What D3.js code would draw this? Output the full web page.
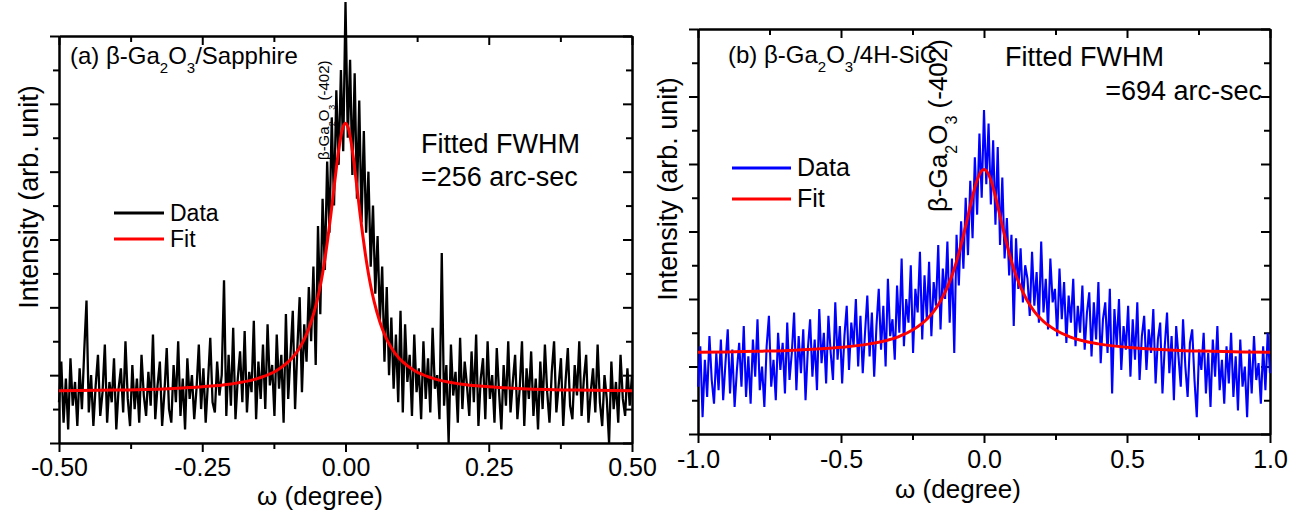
<!DOCTYPE html>
<meta charset="utf-8">
<title>Rocking curves</title>
<script src="https://d3js.org/d3.v7.min.js"></script>
<style>
  body { margin: 0; background: #fff; }
  text { font-family: "Liberation Sans", Arial, sans-serif; fill: #000; }
</style>
<body>
<div id="chart"></div>
<script>

// (a) beta-Ga2O3 / sapphire, omega grid starts at -0.5, step 0.004
var omegaStartA = -0.5, omegaStepA = 0.004;
var dataA = [
  1.2,2.4,0.6,1.9,0.4,2.5,1.1,1.8,0.5,2.2,
  1.0,2.7,4.2,0.9,2.0,0.5,1.7,2.6,0.8,1.5,
  2.9,0.6,1.8,1.2,2.5,0.4,1.6,2.2,0.9,3.0,
  1.3,0.5,2.3,1.0,1.9,0.6,2.6,1.4,0.8,2.1,
  1.1,3.2,0.7,1.7,2.4,0.5,1.5,2.8,1.0,0.6,
  2.3,1.2,3.0,0.8,1.9,0.4,2.5,1.3,2.0,0.7,
  1.6,2.9,1.0,2.2,0.6,1.8,3.1,1.2,0.9,2.4,
  1.4,2.0,4.8,0.8,2.6,1.1,3.4,0.7,1.9,2.7,
  1.2,3.3,0.9,2.1,1.5,3.6,0.7,2.4,1.3,2.9,
  1.0,3.5,1.7,2.3,0.8,3.2,1.6,2.6,0.6,3.8,
  1.3,2.6,3.9,1.0,2.8,4.3,1.5,3.5,2.4,4.6,
  3.0,5.2,2.3,6.4,3.8,7.2,5.1,8.3,6.2,9.6,
  7.0,10.4,8.2,11.0,8.6,13.0,9.0,11.3,7.9,10.9,
  7.2,10.1,6.5,9.2,6.2,8.0,5.2,7.0,4.4,6.1,
  3.6,5.2,2.4,4.6,2.0,3.7,1.6,3.2,1.2,3.9,
  0.9,3.5,1.8,2.6,0.8,3.2,1.5,2.2,0.7,3.0,
  1.3,2.5,0.9,3.4,1.6,2.0,0.7,5.6,1.1,2.3,
  0.0,2.9,1.4,2.1,0.6,3.1,1.0,2.4,1.7,0.8,
  2.7,1.2,3.2,0.5,1.9,2.5,0.7,3.0,1.3,2.0,
  0.6,2.8,1.5,0.4,2.3,1.1,3.0,0.9,1.8,2.6,
  0.7,1.6,3.0,0.5,2.2,1.3,2.7,0.8,1.9,0.4,
  2.4,1.0,2.9,1.5,0.6,2.1,3.0,0.9,1.7,2.5,
  0.5,1.8,2.8,1.1,0.7,2.3,1.4,3.0,0.8,1.9,
  2.6,0.6,1.5,2.2,0.9,2.9,1.2,0.5,2.0,1.3,
  0.0,2.4,1.0,1.8,0.6,2.6,1.3,0.8,2.2,1.1,
  2.0
];
var fitOmegaA = [-0.5,-0.4,-0.3,-0.25,-0.2,-0.15,-0.12,-0.1,-0.09,-0.08,-0.07,-0.06,-0.05,-0.045,-0.04,-0.035,-0.03,-0.025,-0.02,-0.015,-0.01,-0.005,
  0,0.005,0.01,0.015,0.02,0.025,0.03,0.035,0.04,0.045,0.05,0.06,0.07,0.08,0.09,0.1,0.12,0.15,0.2,0.25,0.3,0.4,0.5];
var fitA = [1.54,1.56,1.61,1.66,1.74,1.92,2.14,2.39,2.57,2.81,3.13,3.57,4.17,4.55,5.00,5.53,6.14,6.81,7.53,8.24,8.85,9.28,
  9.43,9.28,8.85,8.24,7.53,6.81,6.14,5.53,5.00,4.55,4.17,3.57,3.13,2.81,2.57,2.39,2.14,1.92,1.74,1.66,1.61,1.56,1.54];
var ticksA = [-0.5,-0.25,0,0.25,0.5];
var tickLabelsA = ["-0.50","-0.25","0.00","0.25","0.50"];
var minorTicksA = [-0.375,-0.125,0.125,0.375];

// (b) beta-Ga2O3 / 4H-SiC, omega grid starts at -1.0, step 0.008
var omegaStartB = -1.0, omegaStepB = 0.008;
var dataB = [
  1.4,2.6,0.5,2.2,1.1,2.9,1.6,0.9,2.4,1.3,
  2.8,1.0,2.1,3.1,1.2,2.5,0.8,1.9,2.7,1.4,
  3.2,1.1,2.3,0.9,2.8,1.7,3.4,1.3,2.0,0.8,
  2.6,3.5,1.4,2.2,1.0,3.0,1.9,2.7,1.2,3.3,
  1.6,2.4,3.6,1.3,2.9,1.8,3.1,1.0,2.5,3.4,
  1.7,2.8,1.3,3.7,2.1,3.0,1.5,3.5,2.4,1.6,
  3.9,2.2,3.2,1.5,2.9,3.8,1.9,3.3,2.6,4.0,
  2.0,3.5,1.8,3.0,4.1,2.3,3.6,1.7,3.2,4.3,
  2.5,3.8,2.0,4.6,2.9,3.4,2.2,4.4,3.0,5.2,
  2.6,4.0,3.3,5.0,2.4,4.3,3.6,5.4,2.8,4.7,
  3.4,5.1,2.9,4.5,3.8,5.6,3.1,4.9,4.0,5.7,
  3.3,5.2,2.4,5.9,4.4,6.3,4.9,7.0,5.3,7.5,
  5.8,8.2,6.5,8.9,7.0,9.6,7.4,9.2,6.8,8.7,
  6.2,8.5,5.6,7.6,5.2,6.4,4.7,5.9,3.2,5.8,
  4.3,5.5,3.9,5.0,4.6,3.5,5.4,3.8,4.8,3.3,
  5.7,3.6,4.6,3.1,5.2,3.9,4.3,2.9,4.9,3.4,
  4.5,2.7,4.1,3.3,4.6,2.6,3.8,3.0,4.4,2.5,
  3.6,4.2,2.3,3.9,2.8,4.5,2.1,3.4,3.9,2.4,
  4.3,1.2,3.7,2.6,4.0,1.9,3.2,2.5,3.8,1.7,
  3.4,2.2,3.9,1.6,2.9,3.5,1.9,3.1,2.4,3.7,
  1.5,2.8,3.3,1.2,2.6,3.6,1.8,2.9,1.0,3.2,
  2.3,1.4,3.4,2.0,1.1,2.7,3.1,1.6,0.5,2.5,
  1.9,3.0,1.2,2.4,0.8,2.8,1.7,3.2,1.3,2.2,
  0.9,2.6,1.5,3.0,1.1,2.3,0.7,2.8,1.4,2.0,
  0.5,2.5,1.2,2.9,1.6,2.1,0.9,2.6,1.3,3.0,
  1.8
];
var fitOmegaB = [-1,-0.9,-0.8,-0.7,-0.6,-0.5,-0.4,-0.3,-0.25,-0.2,-0.175,-0.15,-0.125,-0.1,-0.0875,-0.075,-0.0625,-0.05,-0.0375,-0.025,-0.0125,
  0,0.0125,0.025,0.0375,0.05,0.0625,0.075,0.0875,0.1,0.125,0.15,0.175,0.2,0.25,0.3,0.4,0.5,0.6,0.7,0.8,0.9,1];
var fitB = [2.42,2.43,2.45,2.47,2.51,2.57,2.67,2.88,3.08,3.40,3.64,3.97,4.41,5.00,5.37,5.78,6.22,6.68,7.12,7.50,7.75,
  7.84,7.75,7.50,7.12,6.68,6.22,5.78,5.37,5.00,4.41,3.97,3.64,3.40,3.08,2.88,2.67,2.57,2.51,2.47,2.45,2.43,2.42];
var ticksB = [-1,-0.5,0,0.5,1];
var tickLabelsB = ["-1.0","-0.5","0.0","0.5","1.0"];
var minorTicksB = [-0.75,-0.25,0.25,0.75];

var yMajor = [0,2,4,6,8,10,12];
var yMinor = [1,3,5,7,9,11];

var svg = d3.select("#chart").append("svg")
    .attr("width", 1310)
    .attr("height", 511);

svg.append("rect").attr("width", 1310).attr("height", 511).attr("fill", "#fff");

// text with subscript parts: parts = [[string, isSub], ...]
function richText(g, x, y, size, parts, rotate, anchor) {
    var t = g.append("text")
        .attr("transform", "translate(" + x + "," + y + ")" + (rotate ? " rotate(-90)" : ""))
        .attr("font-size", size)
        .attr("text-anchor", anchor || "start");
    var shift = Math.round(size * 0.38);
    var wasSub = false;
    parts.forEach(function (p) {
        var s = t.append("tspan").text(p[0]);
        if (p[1]) {
            s.attr("font-size", Math.round(size * 0.62)).attr("dy", shift);
            wasSub = true;
        } else if (wasSub) {
            s.attr("dy", -shift);
            wasSub = false;
        }
    });
    return t;
}

function drawPanel(p) {
    var g = svg.append("g");

    var x = d3.scaleLinear().domain(p.xDomain).range([p.left, p.right]);
    var y = d3.scaleLinear().domain([0, 12]).range([p.bottom, p.top]);

    function styleAxis(sel) {
        sel.selectAll("path, line").attr("stroke", "#000").attr("stroke-width", 2);
        sel.selectAll("text").attr("font-size", 25)
            .attr("font-family", "'Liberation Sans', Arial, sans-serif").attr("fill", "#000");
    }

    // bottom axis, ticks outward
    g.append("g").attr("transform", "translate(0," + p.bottom + ")")
        .call(d3.axisBottom(x).tickValues(p.ticks).tickSize(9).tickSizeOuter(0).tickPadding(p.pad)
            .tickFormat(function (d, i) { return p.labels[i]; }))
        .call(styleAxis);
    g.append("g").attr("transform", "translate(0," + p.bottom + ")")
        .call(d3.axisBottom(x).tickValues(p.minor).tickSize(6).tickSizeOuter(0).tickFormat(""))
        .call(styleAxis);

    // top axis, ticks inward
    g.append("g").attr("transform", "translate(0," + p.top + ")")
        .call(d3.axisBottom(x).tickValues(p.ticks).tickSize(9).tickSizeOuter(0).tickFormat(""))
        .call(styleAxis);
    g.append("g").attr("transform", "translate(0," + p.top + ")")
        .call(d3.axisBottom(x).tickValues(p.minor).tickSize(6).tickSizeOuter(0).tickFormat(""))
        .call(styleAxis);

    // left axis, ticks outward, no labels
    g.append("g").attr("transform", "translate(" + p.left + ",0)")
        .call(d3.axisLeft(y).tickValues(yMajor).tickSize(9).tickSizeOuter(0).tickFormat(""))
        .call(styleAxis);
    g.append("g").attr("transform", "translate(" + p.left + ",0)")
        .call(d3.axisLeft(y).tickValues(yMinor).tickSize(6).tickSizeOuter(0).tickFormat(""))
        .call(styleAxis);

    // right axis, ticks inward
    g.append("g").attr("transform", "translate(" + p.right + ",0)")
        .call(d3.axisLeft(y).tickValues(yMajor).tickSize(9).tickSizeOuter(0).tickFormat(""))
        .call(styleAxis);
    g.append("g").attr("transform", "translate(" + p.right + ",0)")
        .call(d3.axisLeft(y).tickValues(yMinor).tickSize(6).tickSizeOuter(0).tickFormat(""))
        .call(styleAxis);

    // measured data
    var line = d3.line()
        .x(function (d, i) { return x(p.start + i * p.step); })
        .y(function (d) { return y(d); });
    g.append("path").datum(p.data)
        .attr("fill", "none")
        .attr("stroke", p.dataColor)
        .attr("stroke-width", p.dataWidth)
        .attr("stroke-linejoin", "bevel")
        .attr("d", line);

    // Lorentzian fit
    var fitLine = d3.line().curve(d3.curveMonotoneX)
        .x(function (d, i) { return x(p.fitOmega[i]); })
        .y(function (d) { return y(d); });
    g.append("path").datum(p.fit)
        .attr("fill", "none")
        .attr("stroke", "#ff0000")
        .attr("stroke-width", 3)
        .attr("d", fitLine);

    // legend
    g.append("line").attr("x1", p.legX1).attr("x2", p.legX2).attr("y1", p.legY).attr("y2", p.legY)
        .attr("stroke", p.dataColor).attr("stroke-width", 3);
    g.append("line").attr("x1", p.legX1).attr("x2", p.legX2).attr("y1", p.legY + p.legGap).attr("y2", p.legY + p.legGap)
        .attr("stroke", "#ff0000").attr("stroke-width", 3);
    g.append("text").attr("x", p.legX2 + 6).attr("y", p.legY + 8).attr("font-size", p.legSize).text("Data");
    g.append("text").attr("x", p.legX2 + 6).attr("y", p.legY + p.legGap + 8).attr("font-size", p.legSize).text("Fit");

    // axis titles
    g.append("text").attr("x", p.xTitleX).attr("y", p.xTitleY).attr("font-size", 26)
        .attr("text-anchor", "middle").text("\u03c9 (degree)");
    g.append("text").attr("transform", "translate(" + p.yTitleX + "," + p.yTitleY + ") rotate(-90)")
        .attr("font-size", 27).attr("text-anchor", "middle").text("Intensity (arb. unit)");

    return g;
}

var gA = drawPanel({
    left: 59, right: 632, top: 36, bottom: 443, pad: 6,
    xDomain: [-0.5, 0.5], ticks: ticksA, labels: tickLabelsA, minor: minorTicksA,
    data: dataA, start: omegaStartA, step: omegaStepA, dataColor: "#000000", dataWidth: 2.3,
    fitOmega: fitOmegaA, fit: fitA,
    legX1: 114, legX2: 164, legY: 213, legGap: 26, legSize: 23,
    xTitleX: 320, xTitleY: 505, yTitleX: 38, yTitleY: 197
});

var gB = drawPanel({
    left: 698, right: 1270, top: 29, bottom: 434, pad: 7,
    xDomain: [-1, 1], ticks: ticksB, labels: tickLabelsB, minor: minorTicksB,
    data: dataB, start: omegaStartB, step: omegaStepB, dataColor: "#0000ff", dataWidth: 2.1,
    fitOmega: fitOmegaB, fit: fitB,
    legX1: 732, legX2: 791, legY: 168, legGap: 31, legSize: 25,
    xTitleX: 958, xTitleY: 498, yTitleX: 677, yTitleY: 189
});

// panel (a) annotations
richText(gA, 70, 64, 24, [["(a) \u03b2-Ga", false], ["2", true], ["O", false], ["3", true], ["/Sapphire", false]]);
richText(gA, 329, 160, 15, [["\u03b2-Ga", false], ["2", true], ["O", false], ["3", true], [" (-402)", false]], true);
gA.append("text").attr("x", 421).attr("y", 153).attr("font-size", 27).text("Fitted FWHM");
gA.append("text").attr("x", 421).attr("y", 186).attr("font-size", 27).text("=256 arc-sec");

// panel (b) annotations
richText(gB, 728, 63, 24, [["(b) \u03b2-Ga", false], ["2", true], ["O", false], ["3", true], ["/4H-SiC", false]]);
richText(gB, 947, 212, 26, [["\u03b2-Ga", false], ["2", true], ["O", false], ["3", true], [" (-402)", false]], true);
gB.append("text").attr("x", 1005).attr("y", 66).attr("font-size", 27).text("Fitted FWHM");
gB.append("text").attr("x", 1262).attr("y", 100).attr("font-size", 27).attr("text-anchor", "end").text("=694 arc-sec");

</script>
</body>
